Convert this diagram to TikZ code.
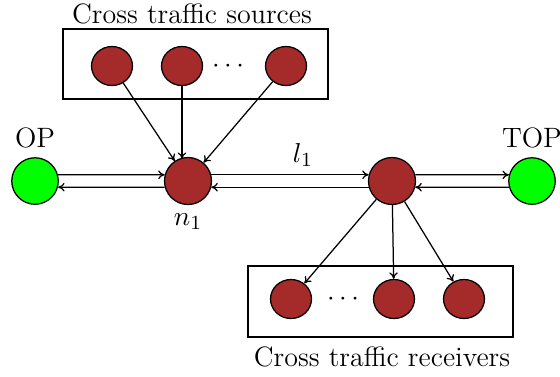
\documentclass[tikz,border=0pt]{standalone}
\usetikzlibrary{positioning,shapes.geometric,arrows.meta}
\definecolor{hostgreen}{RGB}{0,255,0}
\definecolor{routerbrown}{RGB}{165,42,42}
\tikzset{
    host/.style={circle,draw,fill=hostgreen,minimum size=18.6pt,inner sep=0pt},
    router/.style={circle,draw,fill=routerbrown,minimum size=18.8pt,inner sep=0pt},
    cross/.style={ellipse,draw,fill=routerbrown,minimum width=16.4pt,minimum height=15.6pt,inner sep=0pt}
}
\begin{document}
\begin{tikzpicture}[x=0.4pt,y=-0.4pt,line width=0.5pt,>={To[length=2.6pt,width=3.4pt]},font=\fontsize{11.2pt}{13.4pt}\selectfont]
    \useasboundingbox (0,0) rectangle (560,376);
    % hosts and routers
    \node[host] (op) at (35,181) {};
    \node[router] (n1) at (188,181) {};
    \node[router] (n2) at (392,181) {};
    \node[host] (top) at (532,181) {};
    \node[above=0pt] (oplabel) at (op.north) {OP};
    \node[above=0pt] (toplabel) at (top.north) {TOP};
    \node[below=0pt] (n1label) at (n1.south) {$n_1$};
    \node (l1label) at (303,155) {$l_1$};
    % links
    \draw [->] (op.15) -- (n1.165);
    \draw [->] (n1.195) -- (op.-15);
    \draw [->] (n1.15) -- (n2.165);
    \draw [->] (n2.195) -- (n1.-15);
    \draw [->] (n2.15) -- (top.165);
    \draw [->] (top.195) -- (n2.-15);
    % cross traffic sources
    \draw (63,29) rectangle (328,99);
    \node (srctitle) at (192,14) {Cross traffic sources};
    \node[cross] (s1) at (112,66) {};
    \node[cross] (s2) at (182,66) {};
    \node[cross] (s3) at (286,66) {};
    \node (sdots) at (228,66) {$\cdots$};
    \coordinate (n1top) at (182,159);
    \draw [->] (s1) -- (n1);
    \draw [->] (s2) -- (n1top);
    \draw [->] (s3) -- (n1);
    % cross traffic receivers
    \draw (248,266) rectangle (513,337);
    \node (rcvtitle) at (382,357) {Cross traffic receivers};
    \node[cross] (r1) at (291,299) {};
    \node[cross] (r2) at (394,299) {};
    \node[cross] (r3) at (464,299) {};
    \node (rdots) at (343,299) {$\cdots$};
    \foreach \r in {r1,r2,r3}
    \draw [->] (n2) -- (\r);
\end{tikzpicture}
\end{document}
